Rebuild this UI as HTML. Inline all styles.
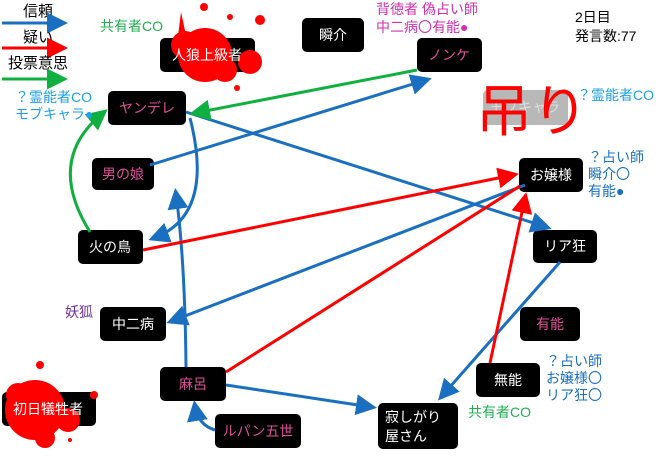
<!DOCTYPE html>
<html><head><meta charset="utf-8"><style>
body{margin:0;background:#fff;}
svg text{font-family:"Liberation Sans","Noto Sans CJK JP",sans-serif;}
</style></head><body>
<svg width="660" height="452" viewBox="0 0 660 452" xmlns="http://www.w3.org/2000/svg">
<defs>
<marker id="b" markerWidth="7" markerHeight="7" refX="5" refY="3.5" orient="auto" markerUnits="strokeWidth"><path d="M0,0 L7,3.5 L0,7 z" fill="#1a6fc0"/></marker>
<marker id="r" markerWidth="7" markerHeight="7" refX="5" refY="3.5" orient="auto" markerUnits="strokeWidth"><path d="M0,0 L7,3.5 L0,7 z" fill="#ff0000"/></marker>
<marker id="g" markerWidth="7" markerHeight="7" refX="5" refY="3.5" orient="auto" markerUnits="strokeWidth"><path d="M0,0 L7,3.5 L0,7 z" fill="#10b040"/></marker>
</defs>
<!-- legend -->
<text x="23" y="16" font-size="15">信頼</text>
<line x1="2" y1="23" x2="62" y2="23" stroke="#1a6fc0" stroke-width="3" marker-end="url(#b)"/>
<text x="23" y="42" font-size="15">疑い</text>
<line x1="2" y1="48" x2="62" y2="48" stroke="#ff0000" stroke-width="3" marker-end="url(#r)"/>
<text x="8" y="68" font-size="15">投票意思</text>
<line x1="2" y1="79" x2="62" y2="79" stroke="#10b040" stroke-width="3" marker-end="url(#g)"/>

<!-- nodes -->
<g font-size="14" text-anchor="middle">
<rect x="160" y="38" width="95" height="34" rx="5" fill="#000"/>
<rect x="302" y="18" width="62" height="34" rx="5" fill="#000"/><text x="333" y="40" fill="#fff">瞬介</text>
<rect x="417" y="38" width="65" height="34" rx="5" fill="#000"/><text x="449" y="60" fill="#e0509a">ノンケ</text>
<rect x="483" y="90" width="85" height="35" rx="5" fill="#b8b8b8"/><text x="525" y="112" fill="#ddd">モブキャラ</text>
<rect x="108" y="91" width="78" height="34" rx="5" fill="#000"/><text x="147" y="113" fill="#e0509a">ヤンデレ</text>
<rect x="92" y="158" width="62" height="32" rx="5" fill="#000"/><text x="123" y="179" fill="#e0509a">男の娘</text>
<rect x="78" y="230" width="65" height="34" rx="5" fill="#000"/><text x="110" y="252" fill="#fff">火の鳥</text>
<rect x="519" y="158" width="64" height="34" rx="5" fill="#000"/><text x="551" y="180" fill="#fff">お嬢様</text>
<rect x="533" y="230" width="64" height="33" rx="5" fill="#000"/><text x="565" y="251" fill="#fff">リア狂</text>
<rect x="100" y="307" width="66" height="34" rx="5" fill="#000"/><text x="133" y="329" fill="#fff">中二病</text>
<rect x="520" y="307" width="60" height="34" rx="5" fill="#000"/><text x="550" y="329" fill="#e0509a">有能</text>
<rect x="160" y="367" width="66" height="34" rx="5" fill="#000"/><text x="193" y="389" fill="#e0509a">麻呂</text>
<rect x="476" y="363" width="64" height="34" rx="5" fill="#000"/><text x="508" y="385" fill="#fff">無能</text>
<rect x="2" y="392" width="94" height="34" rx="5" fill="#000"/>
<rect x="215" y="414" width="86" height="34" rx="5" fill="#000"/><text x="258" y="436" fill="#e0509a">ルパン五世</text>
<rect x="378" y="403" width="80" height="46" rx="5" fill="#000"/>
<text x="385" y="422" fill="#fff" text-anchor="start">寂しがり</text><text x="385" y="441" fill="#fff" text-anchor="start">屋さん</text>
</g>

<!-- blood -->
<g fill="#ff0000">
<circle cx="205" cy="55" r="27"/><circle cx="250" cy="62" r="12"/><circle cx="185" cy="45" r="14"/><circle cx="225" cy="70" r="12"/>
<circle cx="204" cy="7" r="4"/><circle cx="230" cy="17" r="3"/><circle cx="260" cy="20" r="5"/><circle cx="237" cy="88" r="3"/><path d="M181,12 L186,35 L178,36z"/>
<circle cx="35" cy="410" r="30"/><circle cx="68" cy="420" r="12"/><circle cx="18" cy="395" r="12"/><circle cx="45" cy="438" r="10"/>
<circle cx="40" cy="365" r="4"/><circle cx="94" cy="395" r="4"/><circle cx="70" cy="440" r="2"/>
</g>
<g font-size="14" fill="#fff" text-anchor="middle">
<text x="207" y="60">人狼上級者</text><text x="48" y="414">初日犠牲者</text>
</g>

<!-- edges -->
<g fill="none" stroke-width="3">
<line x1="186" y1="112" x2="546" y2="227" stroke="#1a6fc0" marker-end="url(#b)"/>
<path d="M190,118 Q215,215 154,238" stroke="#1a6fc0" marker-end="url(#b)"/>
<line x1="150" y1="165" x2="426" y2="80" stroke="#1a6fc0" marker-end="url(#b)"/>
<line x1="525" y1="185" x2="172" y2="321" stroke="#1a6fc0" marker-end="url(#b)"/>
<line x1="560" y1="262" x2="442" y2="396" stroke="#1a6fc0" marker-end="url(#b)"/>
<path d="M186,367 Q185,260 176,194" stroke="#1a6fc0" marker-end="url(#b)"/>
<line x1="226" y1="385" x2="371" y2="407" stroke="#1a6fc0" marker-end="url(#b)"/>
<path d="M215,430 Q198,425 195,406" stroke="#1a6fc0" marker-end="url(#b)"/>
<line x1="143" y1="250" x2="513" y2="175" stroke="#ff0000" marker-end="url(#r)"/>
<line x1="226" y1="372" x2="520" y2="186" stroke="#ff0000"/>
<line x1="490" y1="363" x2="525" y2="198" stroke="#ff0000" marker-end="url(#r)"/>
<line x1="417" y1="70" x2="195" y2="113" stroke="#10b040" marker-end="url(#g)"/>
<path d="M90,232 Q45,160 103,113" stroke="#10b040" marker-end="url(#g)"/>
</g>

<!-- labels -->
<g font-size="14">
<text x="100" y="31" fill="#20b050">共有者CO</text>
<text x="15" y="102" fill="#1ea0e6">？霊能者CO</text>
<text x="15" y="119" fill="#1ea0e6">モブキャラ●</text>
<text x="376" y="14" fill="#d030b0">背徳者 偽占い師</text>
<text x="376" y="32" fill="#d030b0">中二病〇有能●</text>
<text x="575" y="22" fill="#000">2日目</text>
<text x="575" y="41" fill="#000">発言数:77</text>
<text x="577" y="100" fill="#1ea0e6">？霊能者CO</text>
<text x="588" y="162" fill="#1a6fc0">？占い師</text>
<text x="588" y="179" fill="#1a6fc0">瞬介〇</text>
<text x="588" y="196" fill="#1a6fc0">有能●</text>
<text x="65" y="317" fill="#7030a0">妖狐</text>
<text x="546" y="366" fill="#1a6fc0">？占い師</text>
<text x="546" y="383" fill="#1a6fc0">お嬢様〇</text>
<text x="546" y="400" fill="#1a6fc0">リア狂〇</text>
<text x="468" y="417" fill="#20b050">共有者CO</text>
</g>
<text x="476" y="131" font-size="56" fill="#ff0000">吊り</text>
</svg>
</body></html>
